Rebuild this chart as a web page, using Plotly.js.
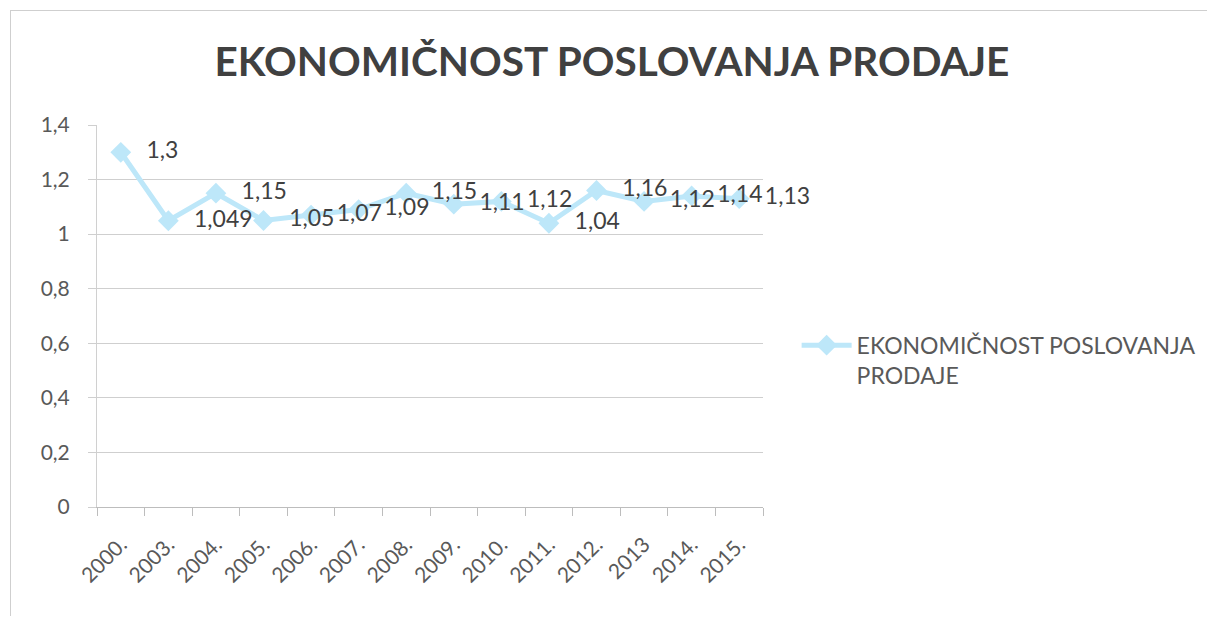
<!DOCTYPE html>
<html>
<head>
<meta charset="utf-8">
<script src="https://cdn.plot.ly/plotly-3.0.1.min.js"></script>
<style>
html,body{margin:0;padding:0;background:#fff;}
#frame{position:absolute;left:10px;top:10px;width:1197px;height:605px;border-top:1px solid #cfcfcf;border-left:1px solid #cfcfcf;}
#chart{position:absolute;left:0;top:0;width:1207px;height:619px;}
</style>
</head>
<body>
<div id="frame"></div>
<div id="chart"></div>
<script>
var categories = ["2000.", "2003.", "2004.", "2005.", "2006.", "2007.", "2008.", "2009.", "2010.", "2011.", "2012.", "2013", "2014.", "2015."];
var values = [1.3, 1.049, 1.15, 1.05, 1.07, 1.09, 1.15, 1.11, 1.12, 1.04, 1.16, 1.12, 1.14, 1.13];
var labels = ["1,3", "1,049", "1,15", "1,05", "1,07", "1,09", "1,15", "1,11", "1,12", "1,04", "1,16", "1,12", "1,14", "1,13"];
var seriesName = "EKONOMIČNOST POSLOVANJA<br>PRODAJE";
var titleText = "EKONOMIČNOST POSLOVANJA PRODAJE";
var yTicks = [0, 0.2, 0.4, 0.6, 0.8, 1, 1.2, 1.4];
var yTickText = ["0", "0,2", "0,4", "0,6", "0,8", "1", "1,2", "1,4"];

var fontFam = "Lato, Open Sans, sans-serif";

var trace = {
  x: categories,
  y: values,
  type: "scatter",
  mode: "lines+markers+text",
  name: seriesName,
  text: labels,
  texttemplate: "\u00a0\u00a0\u2009%{text}",
  textposition: "middle right",
  textfont: {family: fontFam, size: 23, color: "#404040"},
  line: {color: "#bde7f9", width: 5},
  marker: {symbol: "diamond", size: 16, color: "#bde7f9"},
  cliponaxis: false
};

var layout = {
  width: 1207,
  height: 619,
  paper_bgcolor: "rgba(0,0,0,0)",
  plot_bgcolor: "rgba(0,0,0,0)",
  margin: {l: 97, r: 444, t: 125, b: 112},
  separators: ",.",
  title: {
    text: "<b>" + titleText + "</b>",
    font: {family: fontFam, size: 40.5, color: "#404040"},
    x: 0.507, xref: "container", xanchor: "center",
    y: 0.9, yref: "container", yanchor: "middle"
  },
  xaxis: {
    type: "category",
    range: [-0.5, 13.5],
    tickson: "boundaries",
    ticks: "outside",
    ticklen: 8,
    tickcolor: "#bdbdbd",
    showline: true,
    linecolor: "#bdbdbd",
    linewidth: 1,
    showgrid: false,
    tickangle: -45,
    ticklabelstandoff: 16,
    tickfont: {family: fontFam, size: 21, color: "#595959"},
    automargin: false,
    fixedrange: true
  },
  yaxis: {
    range: [0, 1.4],
    tickvals: yTicks,
    ticktext: yTickText,
    showgrid: true,
    gridcolor: "#cfcfcf",
    gridwidth: 1,
    zeroline: false,
    showline: true,
    linecolor: "#d0d0d0",
    ticks: "outside",
    ticklen: 8,
    tickcolor: "#cfcfcf",
    ticklabelstandoff: 14,
    tickfont: {family: fontFam, size: 21, color: "#595959"},
    automargin: false,
    fixedrange: true
  },
  showlegend: true,
  legend: {
    xref: "container", x: 0.66, xanchor: "left",
    yref: "container", y: 0.418, yanchor: "middle",
    valign: "top",
    font: {family: fontFam, size: 23, color: "#595959"},
    itemwidth: 50,
    bgcolor: "rgba(0,0,0,0)"
  }
};

Plotly.newPlot("chart", [trace], layout, {displayModeBar: false, staticPlot: true});
</script>
</body>
</html>
